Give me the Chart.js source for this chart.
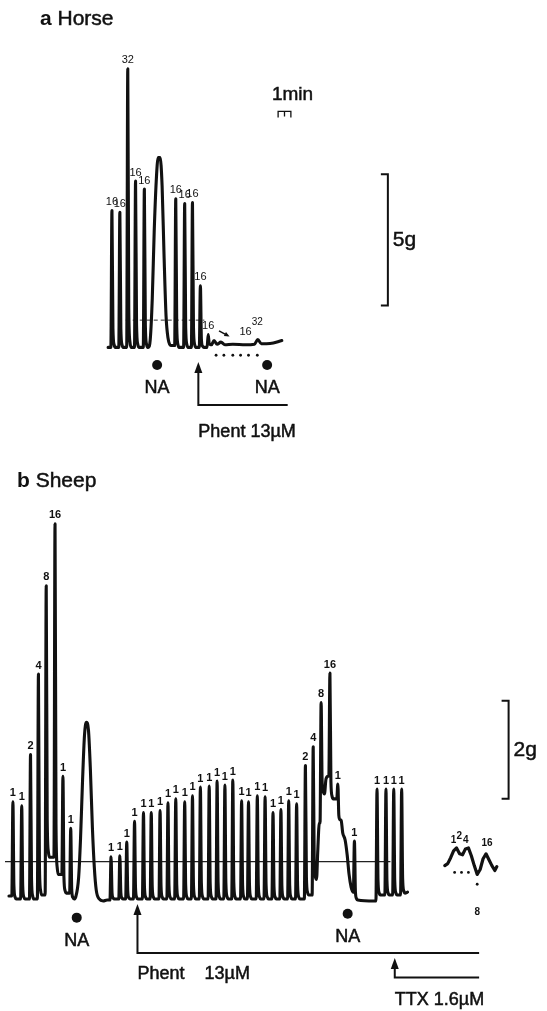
<!DOCTYPE html>
<html>
<head>
<meta charset="utf-8">
<script src="https://cdn.jsdelivr.net/npm/chart.js@4.4.0/dist/chart.umd.min.js"></script>
<style>
html, body { margin: 0; padding: 0; background: #fff; }
#wrap { position: relative; width: 547px; height: 1011px; }
canvas { position: absolute; left: 0; }
#horse { top: 0; }
#sheep { top: 460px; }
</style>
</head>
<body>
<div id="wrap">
<canvas id="horse" width="547" height="460"></canvas>
<canvas id="sheep" width="547" height="551"></canvas>
</div>
<script>
const PX_PER_MIN = 13; // width of the 1 min bar
const FONT = '"Liberation Sans", Arial, Helvetica, sans-serif';

// ---------- a Horse (time in min, tension in g above baseline) ----------
const horseSpikeT = [8.38, 9.0, 9.62, 10.23, 10.92, 13.38, 14.08, 14.69, 15.31, 15.92];
const horseSpikeG = [5.22, 5.15, 10.63, 6.34, 6.04, 5.67, 5.49, 5.52, 2.35, 0.49];
const horseSpikeBase = [0, 0, 0, 0, 0, 0, 0, 0, 0, 0.1];
const horseSpikeLbl = ['16', '16', '32', '16', '16', '16', '16', '16', '16', '16'];
// slow parts: start, NA contracture, tail under phentolamine
const horseSlowT = [8.08, 11.23, 11.38, 11.54, 11.69, 11.85, 12.0, 12.15, 12.31, 12.46, 12.62, 12.77, 13.0,
    16.38, 16.62, 16.92, 17.23, 17.85, 18.85, 19.54, 19.81, 20.08, 20.77, 21.69];
const horseSlowG = [0, 0, 0.3, 1.87, 4.4, 6.34, 7.24, 7.24, 6.16, 3.54, 1.19, 0.37, 0.07,
    0.26, 0.12, 0.2, 0.1, 0.12, 0.1, 0.12, 0.3, 0.14, 0.15, 0.26];
const horseNaT = [11.92, 20.54];
const horseNaG = [-0.67, -0.67];
const horseMissT = [16.54, 17.15, 17.85, 18.46, 19.08, 19.77];
const horseMissG = [-0.3, -0.3, -0.3, -0.3, -0.3, -0.3];
const horsePaperT = [9.46, 15.62];
const horsePaperG = [1.04, 1.04];

// ---------- b Sheep ----------
const sheepSpikeT = [0.62, 1.31, 2.0, 2.62, 3.23, 3.92, 4.54, 5.15,
    8.31, 9.0, 9.54, 10.15, 10.85, 11.46, 12.15, 12.77, 13.38, 14.08, 14.69, 15.31,
    16.0, 16.62, 17.23, 17.85, 18.54, 19.08, 19.77, 20.38, 21.0, 21.62, 22.23, 22.85,
    23.54, 24.15, 24.77, 25.46, 26.08, 27.38,
    29.15, 29.85, 30.46, 31.08];
const sheepSpikeG = [1.98, 1.90, 2.94, 4.58, 6.38, 7.64, 2.50, 1.44,
    0.86, 0.88, 1.16, 1.58, 1.76, 1.76, 1.80, 1.96, 2.04, 1.98, 2.10, 2.28,
    2.30, 2.40, 2.32, 2.42, 2.00, 1.98, 2.10, 2.08, 1.76, 1.82, 2.00, 1.94,
    2.72, 3.10, 4.00, 4.60, 2.34, 1.18,
    2.24, 2.24, 2.24, 2.24];
const sheepSpikeBase = [0, 0, 0, 0.08, 0.85, 0.5, 0.12, 0,
    0, 0, 0, 0, 0, 0, 0, 0, 0, 0, 0, 0,
    0, 0, 0, 0, 0, 0, 0, 0, 0, 0, 0, 0,
    0.08, 0.4, 2.14, 2.04, 1.6, -0.02,
    0.08, 0.08, 0.08, 0.12];
const sheepSpikeLbl = ['1', '1', '2', '4', '8', '16', '1', '1',
    '1', '1', '1', '1', '1', '1', '1', '1', '1', '1', '1', '1',
    '1', '1', '1', '1', '1', '1', '1', '1', '1', '1', '1', '1',
    '2', '4', '8', '16', '1', '1',
    '1', '1', '1', '1'];
const sheepSlowT = [0.31, 5.54, 5.77, 5.92, 6.08, 6.23, 6.38, 6.54, 6.69, 6.85, 7.0, 7.15, 7.38, 7.69, 8.0,
    24.5, 24.63, 25.15, 25.31, 26.46, 26.65, 26.81, 26.96, 27.12, 27.27, 28.92, 31.54];
const sheepSlowG = [0.06, 0.04, 0.44, 1.24, 2.44, 3.34, 3.6, 3.44, 2.64, 1.44, 0.64, 0.18, 0, -0.04, -0.02,
    0.94, 1.55, 2.44, 2.5, 1.35, 1.2, 0.9, 0.5, 0.24, 0.14, -0.04, 0.14];
const sheepTtxT = [34.46, 34.69, 34.92, 35.15, 35.38, 35.62, 35.85, 36.08, 36.31, 36.54,
    36.77, 37.0, 37.23, 37.46, 37.69, 37.92, 38.15, 38.38, 38.54];
const sheepTtxG = [0.68, 0.72, 0.84, 0.98, 1.04, 0.92, 0.90, 1.02, 1.04, 0.88,
    0.68, 0.50, 0.60, 0.82, 0.92, 0.80, 0.68, 0.58, 0.66];
const sheepNaT = [5.62, 26.85];
const sheepNaG = [-0.38, -0.30];
const sheepDotT = [35.23, 35.77, 36.31, 37.0];
const sheepDotG = [0.54, 0.54, 0.54, 0.3];
const sheepPaperT = [0, 30.2];
const sheepPaperG = [0.76, 0.76];

const pts = (xs, ys) => xs.map((x, i) => ({x, y: ys[i]}));

// spikes: fast rise, fall back to the trough level, rest of the trace from slow points
function buildTrace(spT, spG, spBase, slowT, slowG) {
    const d = 1 / PX_PER_MIN;
    const ev = spT.map((t, i) => ({t, i})).concat(slowT.map((t, i) => ({t, g: slowG[i]})));
    ev.sort((a, b) => a.t - b.t);
    const out = [];
    let last = 0;
    for (const e of ev) {
        if (e.i === undefined) {
            out.push({x: e.t, y: e.g});
            last = e.g;
            continue;
        }
        const pk = spG[e.i], post = spBase[e.i], amp = pk - post;
        out.push({x: e.t - 1.1 * d, y: last});
        out.push({x: e.t, y: pk});
        out.push({x: e.t + 1.0 * d, y: post + 0.14 * amp});
        out.push({x: e.t + 2.2 * d, y: post + 0.02 * amp});
        out.push({x: e.t + 3.4 * d, y: post});
        last = post;
    }
    return out.sort((a, b) => a.x - b.x);
}

// print-like text: fill plus a hairline stroke
function boldish(ctx, s, x, y) {
    ctx.fillText(s, x, y);
    ctx.lineWidth = 0.5;
    ctx.strokeText(s, x, y);
}

const notes = {
    id: 'notes',
    afterDatasetsDraw(chart, args, o) {
        const {ctx} = chart;
        const X = (v) => chart.scales.x.getPixelForValue(v);
        const Y = (v) => chart.scales.y.getPixelForValue(v);
        ctx.save();
        ctx.fillStyle = '#111';
        ctx.strokeStyle = '#111';
        ctx.lineCap = 'butt';

        // stimulus labels over the spikes
        ctx.font = o.labelFont;
        ctx.textAlign = 'center';
        ctx.textBaseline = 'bottom';
        o.spikeT.forEach((t, i) => ctx.fillText(o.spikeLbl[i], X(t), Y(o.spikeG[i]) - 3));

        // NA under the dots
        ctx.font = '18px ' + FONT;
        ctx.textBaseline = 'middle';
        o.naT.forEach((t, i) => boldish(ctx, 'NA', X(t), Y(o.naG[i]) + 23));

        // drug bars with arrows
        for (const a of o.drugs) {
            const x = X(a.t), tip = Y(a.tip), base = Y(a.base);
            ctx.lineWidth = 2;
            ctx.beginPath();
            ctx.moveTo(x, tip + 8);
            ctx.lineTo(x, base);
            ctx.lineTo(X(a.end), base);
            ctx.stroke();
            ctx.beginPath();
            ctx.moveTo(x, tip);
            ctx.lineTo(x - 4, tip + 11);
            ctx.lineTo(x + 4, tip + 11);
            ctx.closePath();
            ctx.fill();
            ctx.textAlign = 'left';
            ctx.font = '18px ' + FONT;
            boldish(ctx, a.text, x, base + a.gap);
        }

        // tension scale bar
        const s = o.gBar, sx = X(s.t);
        ctx.lineWidth = 2;
        ctx.beginPath();
        ctx.moveTo(sx - 7, Y(s.top));
        ctx.lineTo(sx, Y(s.top));
        ctx.lineTo(sx, Y(s.bottom));
        ctx.lineTo(sx - 7, Y(s.bottom));
        ctx.stroke();
        ctx.font = '21px ' + FONT;
        ctx.textAlign = 'left';
        boldish(ctx, s.text, sx + 5, Y((s.top + s.bottom) / 2));

        // time bar
        if (o.minBar) {
            const m = o.minBar, x0 = X(m.t), x1 = X(m.t + 1), y = Y(m.g);
            ctx.lineWidth = 1.3;
            ctx.beginPath();
            ctx.moveTo(x0, y + 6); ctx.lineTo(x0, y); ctx.lineTo(x1, y); ctx.lineTo(x1, y + 6);
            ctx.moveTo((x0 + x1) / 2, y); ctx.lineTo((x0 + x1) / 2, y + 5);
            ctx.stroke();
            ctx.font = '19px ' + FONT;
            ctx.textAlign = 'center';
            boldish(ctx, '1min', (x0 + x1) / 2 + 8, y - 17);
        }

        // loose labels
        for (const tx of o.texts) {
            ctx.font = tx.font;
            ctx.textAlign = tx.align || 'center';
            ctx.textBaseline = 'middle';
            ctx.fillText(tx.s, X(tx.t), Y(tx.g));
        }

        // small arrow in the horse tail
        if (o.smallArrow) {
            const a = o.smallArrow, x0 = X(a[0]), y0 = Y(a[1]), x1 = X(a[2]), y1 = Y(a[3]);
            const ang = Math.atan2(y1 - y0, x1 - x0);
            ctx.lineWidth = 1.6;
            ctx.beginPath(); ctx.moveTo(x0, y0); ctx.lineTo(x1, y1); ctx.stroke();
            ctx.beginPath();
            ctx.moveTo(x1 + 2 * Math.cos(ang), y1 + 2 * Math.sin(ang));
            ctx.lineTo(x1 - 4 * Math.cos(ang - 0.6), y1 - 4 * Math.sin(ang - 0.6));
            ctx.lineTo(x1 - 4 * Math.cos(ang + 0.6), y1 - 4 * Math.sin(ang + 0.6));
            ctx.closePath(); ctx.fill();
        }

        // panel title
        ctx.textAlign = 'left';
        ctx.textBaseline = 'alphabetic';
        ctx.font = 'bold 21px ' + FONT;
        ctx.fillText(o.title[0], o.titleX, o.titleY);
        const w = ctx.measureText(o.title[0] + ' ').width;
        ctx.font = '21px ' + FONT;
        boldish(ctx, o.title[1], o.titleX + w, o.titleY);
        ctx.restore();
    }
};

function makePanel(id, yMin, yMax, datasets, noteOpts) {
    new Chart(document.getElementById(id), {
        type: 'line',
        data: {datasets},
        options: {
            responsive: false,
            animation: false,
            events: [],
            layout: {padding: 0},
            scales: {
                x: {type: 'linear', min: 0, max: 547 / PX_PER_MIN, display: false},
                y: {type: 'linear', min: yMin, max: yMax, display: false}
            },
            plugins: {legend: {display: false}, tooltip: {enabled: false}, notes: noteOpts}
        },
        plugins: [notes]
    });
}

const traceStyle = {
    borderColor: '#111', borderWidth: 3.1, pointRadius: 0, fill: false,
    cubicInterpolationMode: 'monotone', borderJoinStyle: 'round', borderCapStyle: 'round'
};
const dotStyle = (r) => ({showLine: false, pointRadius: r, pointBackgroundColor: '#111', pointBorderWidth: 0});

// a Horse: baseline at y=350 px, 5 g = 134 px
makePanel('horse', -110 / 26.8, 350 / 26.8, [
    {...traceStyle, data: buildTrace(horseSpikeT, horseSpikeG, horseSpikeBase, horseSlowT, horseSlowG)},
    {data: pts(horsePaperT, horsePaperG), borderColor: '#333', borderWidth: 1, borderDash: [4, 3], pointRadius: 0},
    {...dotStyle(5), data: pts(horseNaT, horseNaG)},
    {...dotStyle(1.4), data: pts(horseMissT, horseMissG)}
], {
    title: ['a', 'Horse'], titleX: 40, titleY: 25,
    labelFont: '11px ' + FONT,
    spikeT: horseSpikeT, spikeG: horseSpikeG, spikeLbl: horseSpikeLbl,
    naT: horseNaT, naG: horseNaG,
    drugs: [{t: 15.15, tip: -0.56, base: -2.2, end: 22.15, gap: 27, text: 'Phent 13µM'}],
    gBar: {t: 30.0, top: 6.6, bottom: 1.6, text: '5g'},
    minBar: {t: 21.4, g: 9.0},
    smallArrow: [16.77, 0.63, 17.46, 0.45],
    texts: [
        {s: '16', t: 18.85, g: 0.6, font: '11px ' + FONT},
        {s: '32', t: 19.77, g: 0.95, font: '10px ' + FONT}
    ]
});

// b Sheep: baseline at y=442 px of this canvas, 2 g = 100 px
makePanel('sheep', -109 / 50, 442 / 50, [
    {...traceStyle, data: buildTrace(sheepSpikeT, sheepSpikeG, sheepSpikeBase, sheepSlowT, sheepSlowG)},
    {...traceStyle, borderWidth: 3.2, cubicInterpolationMode: 'default', tension: 0, data: pts(sheepTtxT, sheepTtxG)},
    {data: pts(sheepPaperT, sheepPaperG), borderColor: '#222', borderWidth: 1.2, pointRadius: 0},
    {...dotStyle(5), data: pts(sheepNaT, sheepNaG)},
    {...dotStyle(1.4), data: pts(sheepDotT, sheepDotG)}
], {
    title: ['b', 'Sheep'], titleX: 17, titleY: 27,
    labelFont: 'bold 11px ' + FONT,
    spikeT: sheepSpikeT, spikeG: sheepSpikeG, spikeLbl: sheepSpikeLbl,
    naT: sheepNaT, naG: sheepNaG,
    drugs: [
        {t: 10.38, tip: -0.1, base: -1.1, end: 37.15, gap: 21, text: 'Phent    13µM'},
        {t: 30.54, tip: -1.2, base: -1.6, end: 37.15, gap: 23, text: 'TTX 1.6µM'}
    ],
    gBar: {t: 39.46, top: 4.04, bottom: 2.04, text: '2g'},
    texts: [
        {s: '1', t: 35.15, g: 1.2, font: 'bold 10px ' + FONT},
        {s: '2', t: 35.6, g: 1.28, font: 'bold 10px ' + FONT},
        {s: '4', t: 36.1, g: 1.2, font: 'bold 10px ' + FONT},
        {s: '16', t: 37.77, g: 1.14, font: 'bold 10px ' + FONT},
        {s: '8', t: 37.0, g: -0.28, font: 'bold 10px ' + FONT}
    ]
});
</script>
</body>
</html>
